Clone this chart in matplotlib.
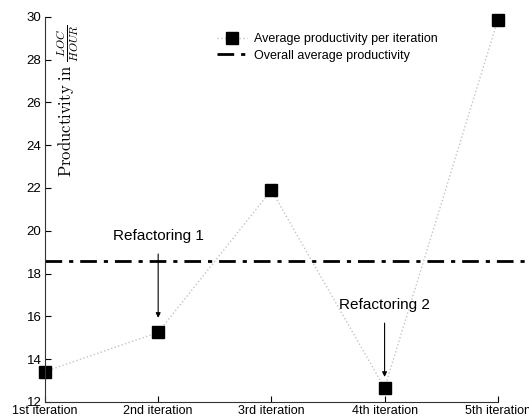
import matplotlib
matplotlib.use("Agg")
import matplotlib.pyplot as plt

# Données
iterations = ["1st iteration", "2nd iteration", "3rd iteration", "4th iteration", "5th iteration"]
productivity = [13.42, 15.25, 21.9, 12.65, 29.85]
overall_avg = 18.6

plt.rcParams["font.family"] = ["Liberation Sans", "DejaVu Sans"]
plt.rcParams["mathtext.fontset"] = "cm"

x = list(range(1, len(iterations) + 1))

fig = plt.figure(figsize=(5.29, 4.2), dpi=100)
ax = fig.add_axes([0.085, 0.043, 0.856, 0.917])

ax.plot(x, productivity, linestyle=":", color="#c4c4c4", linewidth=1,
        marker="s", markersize=9, markerfacecolor="black", markeredgecolor="black",
        clip_on=False, label="Average productivity per iteration")
ax.plot([1, 5.3], [overall_avg, overall_avg], linestyle="-.", color="black",
        linewidth=2, clip_on=False, label="Overall average productivity",
        dashes=(6, 2.5, 1.5, 2.5))

ax.annotate("Refactoring 1", xy=(2, 15.93), xytext=(2, 19.76),
            ha="center", va="center", fontsize=11,
            arrowprops=dict(arrowstyle="-|>", color="black", lw=0.8,
                            mutation_scale=7, shrinkA=6, shrinkB=0))
ax.annotate("Refactoring 2", xy=(4, 13.17), xytext=(4, 16.53),
            ha="center", va="center", fontsize=11,
            arrowprops=dict(arrowstyle="-|>", color="black", lw=0.8,
                            mutation_scale=7, shrinkA=6, shrinkB=0))

ax.set_xlim(1, 5)
ax.set_ylim(12, 30)
ax.set_xticks(x)
ax.set_xticklabels(iterations, fontsize=9)
ax.set_yticks(range(12, 31, 2))
ax.tick_params(axis="both", direction="in", length=4, labelsize=9, pad=2.5)
for lab in ax.get_yticklabels():
    lab.set_fontsize(9.5)

ax.spines["top"].set_visible(False)
ax.spines["right"].set_visible(False)
for s in ["left", "bottom"]:
    ax.spines[s].set_color("#333333")

ax.text(0.051, 0.782, r"$\mathrm{Productivity\ in\ }\frac{LOC}{HOUR}$",
        transform=ax.transAxes, rotation=90, ha="center", va="center", fontsize=12)

ax.legend(loc="upper left", bbox_to_anchor=(0.36, 0.98), frameon=False,
          fontsize=9, handlelength=2.4, handletextpad=0.6,
          borderpad=0.2, labelspacing=0.35)

fig.savefig("out.png", dpi=100)
